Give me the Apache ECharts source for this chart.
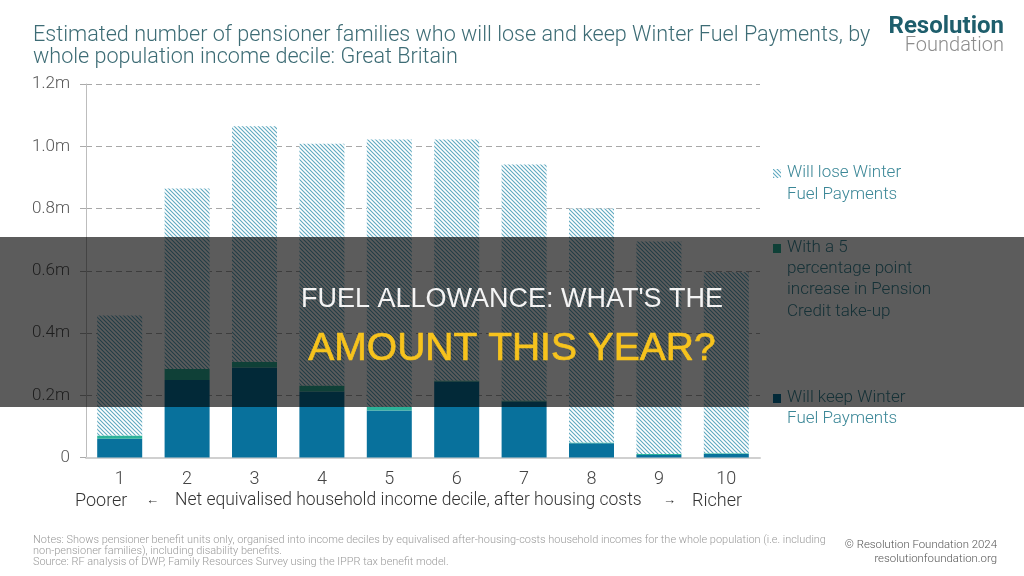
<!DOCTYPE html>
<html>
<head>
<meta charset="utf-8">
<script src="https://cdn.jsdelivr.net/npm/echarts@6/dist/echarts.min.js"></script>
<style>
html,body{margin:0;padding:0;background:#fff;}
#chart{width:1024px;height:576px;}
</style>
</head>
<body>
<div id="chart"></div>
<script>
// ---- data ----
const deciles = ['1','2','3','4','5','6','7','8','9','10'];
const willKeep = [0.060, 0.249, 0.289, 0.212, 0.151, 0.244, 0.180, 0.046, 0.008, 0.011];
const takeUp   = [0.011, 0.035, 0.019, 0.019, 0.012, 0.003, 0.003, 0.002, 0.003, 0.003];
const willLose = [0.385, 0.580, 0.756, 0.777, 0.859, 0.775, 0.758, 0.752, 0.683, 0.581];
const yTicks = [0, 0.2, 0.4, 0.6, 0.8, 1.0, 1.2];
const seriesNames = ['Will keep Winter Fuel Payments', 'With a 5 percentage point increase in Pension Credit take-up', 'Will lose Winter Fuel Payments'];

// hatch pattern
function hatch() {
  const c = document.createElement('canvas');
  c.width = 4; c.height = 4;
  const g = c.getContext('2d');
  g.fillStyle = '#ffffff';
  g.fillRect(0, 0, 4, 4);
  g.strokeStyle = '#5fa9c0';
  g.lineWidth = 1.1;
  g.beginPath();
  g.moveTo(-1, -1); g.lineTo(5, 5);
  g.moveTo(-1, 3); g.lineTo(1, 5);
  g.moveTo(3, -1); g.lineTo(5, 1);
  g.stroke();
  return c;
}
const hatchCanvas = hatch();
const hatchFill = { image: hatchCanvas, repeat: 'repeat' };

const BLUE = '#08719c';
const GREEN = '#2cb29a';
const FONT = 'Roboto, "Noto Sans", sans-serif';

const chart = echarts.init(document.getElementById('chart'));

const legendText = '#3b8797';
const legendX = 787;
const legendLines = [
  { y: 172, t: 'Will lose Winter' }, { y: 194, t: 'Fuel Payments' },
  { y: 247, t: 'With a 5' }, { y: 268, t: 'percentage point' }, { y: 289, t: 'increase in Pension' }, { y: 311, t: 'Credit take-up' },
  { y: 397, t: 'Will keep Winter' }, { y: 418, t: 'Fuel Payments' }
];

const graphics = [
  // title
  { type: 'text', left: 33, top: 25, z: 10, style: { text: 'Estimated number of pensioner families who will lose and keep Winter Fuel Payments, by', fill: '#3d6c75', font: '300 21.6px ' + FONT } },
  { type: 'text', left: 33, top: 47, z: 10, style: { text: 'whole population income decile: Great Britain', fill: '#3d6c75', font: '300 21.6px ' + FONT } },
  // logo
  { type: 'text', right: 20, top: 15, z: 10, style: { text: 'Resolution', fill: '#1e5e6c', font: 'bold 24px ' + FONT } },
  { type: 'text', right: 20, top: 36, z: 10, style: { text: 'Foundation', fill: '#8d8d8d', font: '300 20px ' + FONT } },
  // x axis title row
  { type: 'text', left: 75, top: 492, z: 10, style: { text: 'Poorer', fill: '#333', font: '300 18px ' + FONT } },
  { type: 'text', left: 146, top: 494, z: 10, style: { text: '←', fill: '#333', font: '300 13px ' + FONT } },
  { type: 'text', left: 175, top: 492, z: 10, style: { text: 'Net equivalised household income decile, after housing costs', fill: '#333', font: '300 17.5px ' + FONT } },
  { type: 'text', left: 663, top: 494, z: 10, style: { text: '→', fill: '#333', font: '300 13px ' + FONT } },
  { type: 'text', left: 692, top: 492, z: 10, style: { text: 'Richer', fill: '#333', font: '300 18px ' + FONT } },
  // notes
  { type: 'text', left: 33, top: 535, z: 10, style: { text: 'Notes: Shows pensioner benefit units only, organised into income deciles by equivalised after-housing-costs household incomes for the whole population (i.e. including', fill: '#9a9a9a', font: '300 10.95px ' + FONT } },
  { type: 'text', left: 33, top: 546, z: 10, style: { text: 'non-pensioner families), including disability benefits.', fill: '#9a9a9a', font: '300 10.95px ' + FONT } },
  { type: 'text', left: 33, top: 557, z: 10, style: { text: 'Source: RF analysis of DWP, Family Resources Survey using the IPPR tax benefit model.', fill: '#9a9a9a', font: '300 10.95px ' + FONT } },
  // credit
  { type: 'text', right: 27, top: 540, z: 10, style: { text: '© Resolution Foundation 2024', fill: '#555', font: '300 11.4px ' + FONT } },
  { type: 'text', right: 27, top: 554, z: 10, style: { text: 'resolutionfoundation.org', fill: '#555', font: '300 11.4px ' + FONT } },
  // legend icons
  { type: 'rect', shape: { x: 773, y: 169, width: 8, height: 9 }, z: 10, style: { fill: hatchFill } },
  { type: 'rect', shape: { x: 773, y: 244, width: 8, height: 9 }, z: 10, style: { fill: GREEN } },
  { type: 'rect', shape: { x: 773, y: 394, width: 8, height: 9 }, z: 10, style: { fill: BLUE } }
];
legendLines.forEach(l => {
  graphics.push({ type: 'text', left: legendX, top: l.y - 8, z: 10, style: { text: l.t, fill: legendText, font: '300 17px ' + FONT } });
});
// dark overlay band with headline
graphics.push({ type: 'rect', shape: { x: 0, y: 237, width: 1024, height: 170 }, z: 100, style: { fill: 'rgba(0,0,0,0.64)' } });
graphics.push({ type: 'text', x: 512, y: 300, z: 101, style: { text: "FUEL ALLOWANCE: WHAT'S THE", fill: '#f4f4f4', font: '27px "Liberation Sans", Arial, sans-serif', textAlign: 'center', textVerticalAlign: 'middle' } });
graphics.push({ type: 'text', x: 512, y: 349, z: 101, style: { text: 'AMOUNT THIS YEAR?', fill: '#f7c31d', stroke: '#f7c31d', lineWidth: 0.7, font: '39px "Liberation Sans", Arial, sans-serif', textAlign: 'center', textVerticalAlign: 'middle' } });

chart.setOption({
  animation: false,
  textStyle: { fontFamily: FONT },
  grid: { left: 86, right: 264, top: 84, bottom: 118.5, containLabel: false },
  xAxis: {
    type: 'category',
    data: deciles,
    axisLine: { show: true, lineStyle: { color: '#d0d0d0', width: 2 } },
    axisTick: { show: false },
    axisLabel: { fontSize: 18, color: '#444', margin: 13, fontWeight: 300 }
  },
  yAxis: {
    type: 'value',
    min: yTicks[0],
    max: yTicks[yTicks.length - 1],
    interval: 0.2,
    axisLine: { show: true, lineStyle: { color: '#bdbdbd', width: 1 } },
    axisTick: { show: true, length: 6, lineStyle: { color: '#aaa' } },
    axisLabel: {
      fontSize: 17, color: '#555', margin: 16, fontWeight: 300,
      formatter: v => (Math.abs(v) < 1e-9 ? '0' : v.toFixed(1) + 'm')
    },
    splitLine: { show: true, lineStyle: { color: '#a8a8a8', type: [6, 4], width: 1 } }
  },
  series: [
    { name: seriesNames[0], type: 'bar', stack: 'total', data: willKeep, barWidth: 45, itemStyle: { color: BLUE } },
    { name: seriesNames[1], type: 'bar', stack: 'total', data: takeUp, barWidth: 45, itemStyle: { color: GREEN } },
    { name: seriesNames[2], type: 'bar', stack: 'total', data: willLose, barWidth: 45, itemStyle: { color: hatchFill } }
  ],
  graphic: graphics
});
</script>
</body>
</html>
